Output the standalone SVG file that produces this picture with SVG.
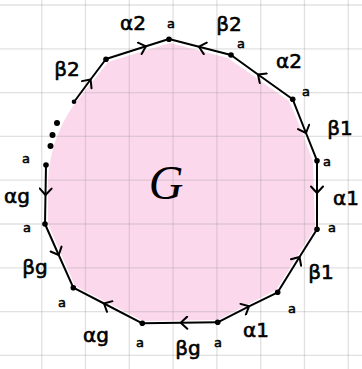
<svg xmlns="http://www.w3.org/2000/svg" width="362" height="369" viewBox="0 0 362 369">
<style>
.grid line{stroke:#9a9a9a;stroke-opacity:0.3;stroke-width:1.3}
.edge{fill:none;stroke:#000;stroke-width:2;stroke-linecap:round;stroke-linejoin:round}
.lbl{font-family:"DejaVu Sans",sans-serif;font-size:20px;fill:#000;stroke:#000;stroke-width:0.6;text-anchor:middle}
.a{font-family:"DejaVu Sans",sans-serif;font-size:13px;fill:#000;stroke:#000;stroke-width:0.5;text-anchor:middle}
.v{fill:#000}
</style>
<defs>
<marker id="chev" viewBox="-8 -7 10 14" markerWidth="10" markerHeight="14" markerUnits="userSpaceOnUse" orient="auto" refX="0" refY="0">
<path d="M-6.5,-6 L0,0 L-6.5,6" fill="none" stroke="#000" stroke-width="2" stroke-linecap="round" stroke-linejoin="round"/>
</marker>
</defs>
<rect width="362" height="369" fill="#fff"/>
<path id="fill" d="M170,43 L228,58 L289,101 Q300,125 313,162 L315,228 L276,290 L218,320 L143,321 L75,286 L48,224 L48,180 Q50,140 73,106 L108,62 Z" fill="#fcd8ec"/>
<g class="grid">
<line x1="41.7" y1="0" x2="41.7" y2="369"/>
<line x1="85.5" y1="0" x2="85.5" y2="369"/>
<line x1="129.3" y1="0" x2="129.3" y2="369"/>
<line x1="173.1" y1="0" x2="173.1" y2="369"/>
<line x1="216.9" y1="0" x2="216.9" y2="369"/>
<line x1="260.7" y1="0" x2="260.7" y2="369"/>
<line x1="304.5" y1="0" x2="304.5" y2="369"/>
<line x1="348.3" y1="0" x2="348.3" y2="369"/>
<line x1="0" y1="5" x2="362" y2="5"/>
<line x1="0" y1="48.8" x2="362" y2="48.8"/>
<line x1="0" y1="92.6" x2="362" y2="92.6"/>
<line x1="0" y1="136.4" x2="362" y2="136.4"/>
<line x1="0" y1="180.2" x2="362" y2="180.2"/>
<line x1="0" y1="224" x2="362" y2="224"/>
<line x1="0" y1="267.8" x2="362" y2="267.8"/>
<line x1="0" y1="311.6" x2="362" y2="311.6"/>
<line x1="0" y1="355.4" x2="362" y2="355.4"/>
</g>
<g id="connectors">
<path class="edge" d="M106,59 L146,46.3 L169,39" marker-mid="url(#chev)"/>
<path class="edge" d="M74,102 L90.6,79.5 L106,59" marker-mid="url(#chev)"/>
<path class="edge" d="M231,55 L199,46.7 L169,39" marker-mid="url(#chev)"/>
<path class="edge" d="M292.7,99.3 L258,74.5 L231,55" marker-mid="url(#chev)"/>
<path class="edge" d="M292.7,99.3 L306,133 L317,160.7" marker-mid="url(#chev)"/>
<path class="edge" d="M317,160.7 L317,193 L317,229.3" marker-mid="url(#chev)"/>
<path class="edge" d="M277.7,292.3 L299.5,257 L317,229.3" marker-mid="url(#chev)"/>
<path class="edge" d="M217.7,322.3 L249,306.3 L277.7,292.3" marker-mid="url(#chev)"/>
<path class="edge" d="M217.7,322.3 L180.7,322.8 L142.3,323.3" marker-mid="url(#chev)"/>
<path class="edge" d="M142.3,323.3 L104,303.5 L73.3,287.7" marker-mid="url(#chev)"/>
<path class="edge" d="M45,224 L58.7,255 L73.3,287.7" marker-mid="url(#chev)"/>
<path class="edge" d="M46,165 L45.5,195 L45,224" marker-mid="url(#chev)"/>
</g>
<g id="vertices">
<circle id="v1" class="v" cx="169" cy="39.3" r="2.8"/>
<circle id="v2" class="v" cx="106" cy="59.3" r="2.8"/>
<circle id="v3" class="v" cx="74" cy="101.7" r="2.3"/>
<circle id="v4" class="v" cx="231" cy="55" r="2.8"/>
<circle id="v5" class="v" cx="292.7" cy="99.3" r="2.8"/>
<circle id="v6" class="v" cx="317" cy="160.7" r="2.8"/>
<circle id="v7" class="v" cx="317" cy="229.3" r="2.8"/>
<circle id="v8" class="v" cx="277.7" cy="292.3" r="2.8"/>
<circle id="v9" class="v" cx="217.7" cy="322.3" r="2.8"/>
<circle id="v10" class="v" cx="142.3" cy="323.3" r="2.8"/>
<circle id="v11" class="v" cx="73.3" cy="287.7" r="2.8"/>
<circle id="v12" class="v" cx="45" cy="224" r="2.8"/>
<circle id="v13" class="v" cx="46" cy="165" r="2.8"/>
</g>
<g id="ellipsis">
<circle class="v" cx="57" cy="123" r="3"/>
<circle class="v" cx="52.5" cy="135" r="3"/>
<circle class="v" cx="50.5" cy="146" r="3"/>
</g>
<g id="edge-labels">
<text class="lbl" x="133" y="30">α2</text>
<text class="lbl" x="67" y="76">β2</text>
<text class="lbl" x="229" y="31">β2</text>
<text class="lbl" x="289" y="68">α2</text>
<text class="lbl" x="340" y="135">β1</text>
<text class="lbl" x="346" y="205">α1</text>
<text class="lbl" x="321" y="279">β1</text>
<text class="lbl" x="256" y="337">α1</text>
<text class="lbl" x="188" y="355">βg</text>
<text class="lbl" x="96" y="342">αg</text>
<text class="lbl" x="35" y="274">βg</text>
<text class="lbl" x="17" y="203">αg</text>
</g>
<g id="vertex-labels">
<text class="a" x="171" y="28">a</text>
<text class="a" x="241" y="48">a</text>
<text class="a" x="306" y="96">a</text>
<text class="a" x="327" y="166">a</text>
<text class="a" x="332" y="232">a</text>
<text class="a" x="292" y="313">a</text>
<text class="a" x="218" y="347">a</text>
<text class="a" x="140" y="347">a</text>
<text class="a" x="62" y="307">a</text>
<text class="a" x="27" y="232">a</text>
<text class="a" x="26" y="163">a</text>
</g>
<g id="center">
<text x="166" y="199" font-family="Liberation Serif, serif" font-style="italic" font-size="48" text-anchor="middle" fill="#000">G</text>
</g>
</svg>
